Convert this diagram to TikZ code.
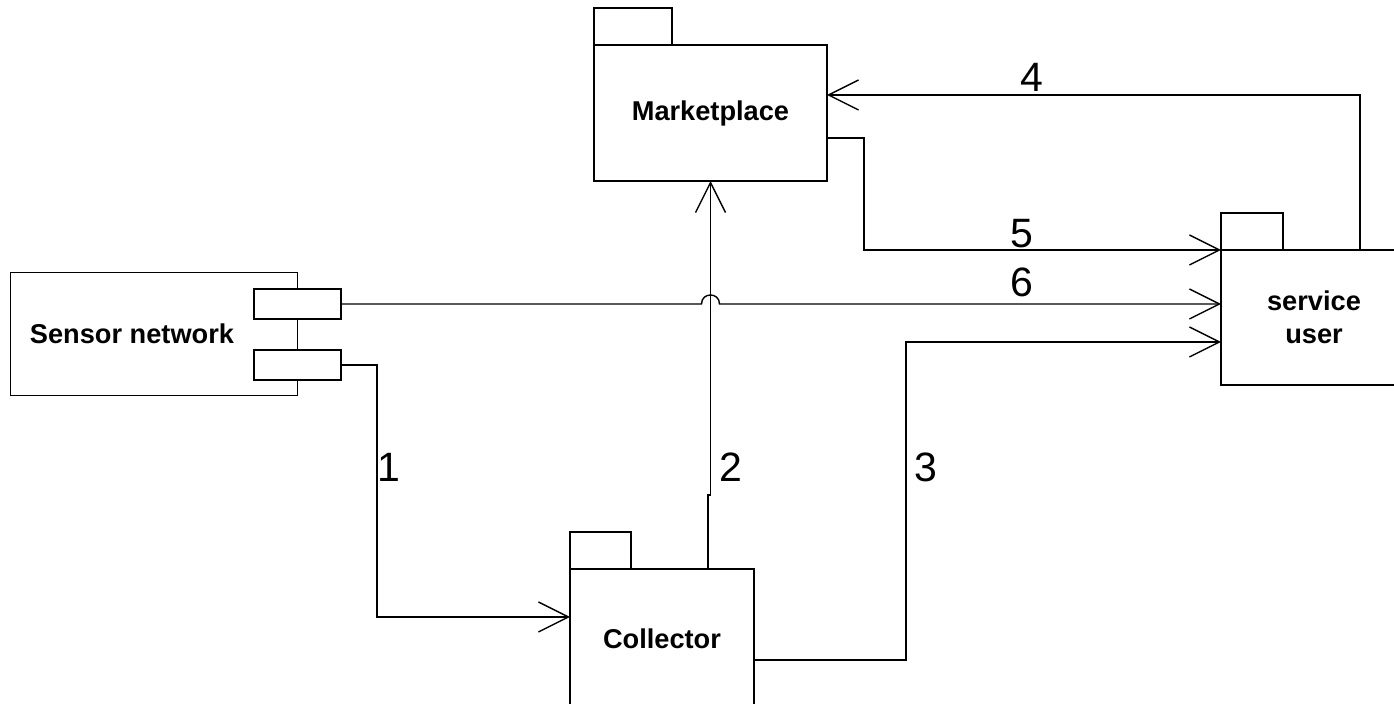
\documentclass[tikz,border=0pt]{standalone}
\usepackage{fontspec}
\setmainfont{Liberation Sans}
\usetikzlibrary{arrows.meta,positioning}
\tikzset{
  pkg/.style={draw, line width=1pt, fill=white, inner sep=0pt, outer sep=0pt, align=center,
    font=\bfseries\fontsize{13.6}{16.5}\selectfont},
  tab/.style={draw, line width=1pt, inner sep=0pt, outer sep=0pt, minimum height=18.5pt, anchor=south west},
  port/.style={draw, line width=0.6pt, fill=white, inner sep=0pt, outer sep=0pt, minimum width=43.5pt, minimum height=15pt},
  flow/.style={line width=0.7pt, -{Straight Barb[length=15pt,width=15pt]}},
  num/.style={font=\fontsize{20.5}{24}\selectfont, inner sep=0pt}
}
\begin{document}
\begin{tikzpicture}[x=0.5pt, y=-0.5pt]
\useasboundingbox (0,0) rectangle (1394,704);
\node[draw, line width=0.5pt, inner sep=0pt, outer sep=0pt, minimum width=143.5pt, minimum height=61.5pt] (sn) at (153.5,334.5) {};
\node[font=\bfseries\fontsize{13.6}{16.5}\selectfont] (snlabel) at (132,334) {Sensor network};
\node[port] (up) at (297.5,304) {};
\node[port] (lo) at (297.5,365) {};

\node[pkg, minimum width=116.5pt, minimum height=68pt] (mkt) at (710.5,113) {Marketplace};
\node[tab, minimum width=39pt] (mkttab) at (mkt.north west) {};
\node[pkg, minimum width=93pt, minimum height=67.5pt] (su) at (1314,317.5) {service\\user};
\node[tab, minimum width=31pt] (sutab) at (su.north west) {};
\node[pkg, minimum width=92pt, minimum height=70pt] (col) at (662,639) {Collector};
\node[tab, minimum width=30.5pt] (coltab) at (col.north west) {};

\coordinate (k1) at (377,617);
\coordinate (k2) at (708,495);
\coordinate (k3) at (906,342);
\coordinate (k4) at (1360,95);
\coordinate (k5) at (864,250);

\draw[flow] (lo.east) -| (k1) -- (k1 -| col.west);
\draw[flow] (k2 |- col.north) -- (k2) -- (k2 -| mkt.south) -- (mkt.south);
\draw[flow] ([yshift=-10.5pt]col.east) -| (k3) -- (k3 -| su.west);
\draw[flow] (k4 |- su.north) -- (k4) -- (k4 -| mkt.east);
\draw[flow] ([yshift=-12.5pt]mkt.east) -| (k5) -- (su.north west);
\draw[flow] (up.east) -- ([xshift=-4.5pt]up.east -| mkt.south)
  .. controls +(0,-12) and +(0,-12) .. ++(18,0) -- (up.east -| su.west);

\node[num] (n1) at (389,467) {1};
\node[num] (n2) at (731,467) {2};
\node[num] (n3) at (926,467) {3};
\node[num, anchor=base] (n4) at (1032,92) {4};
\node[num, anchor=base] (n5) at (1022,248) {5};
\node[num, anchor=base] (n6) at (1022,297) {6};
\end{tikzpicture}
\end{document}
